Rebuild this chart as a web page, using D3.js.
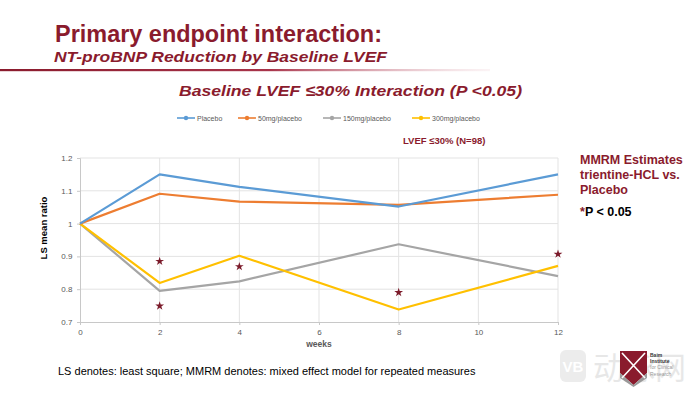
<!DOCTYPE html>
<html><head><meta charset="utf-8">
<script src="https://cdn.jsdelivr.net/npm/d3@7"></script>
<style>html,body{margin:0;padding:0;background:#fff;}svg{display:block;font-family:"Liberation Sans",Arial,sans-serif;}</style>
</head><body><svg id="c" width="700" height="394"></svg>
<script>
const weeks = [0, 2, 4, 8, 12];
const seriesNames = ["Placebo", "50mg/placebo", "150mg/placebo", "300mg/placebo"];
const placebo = [1.0, 1.150, 1.112, 1.052, 1.150];
const mg50 = [1.0, 1.091, 1.067, 1.057, 1.088];
const mg150 = [1.0, 0.795, 0.824, 0.937, 0.840];
const mg300 = [1.0, 0.819, 0.902, 0.738, 0.871];
const starWeeks = [2, 2, 4, 8, 12];
const starValues = [0.885, 0.749, 0.869, 0.790, 0.907];
const xTicks = [0, 2, 4, 6, 8, 10, 12];
const yTicks = [0.7, 0.8, 0.9, 1.0, 1.1, 1.2];
const yTickLabels = ["0.7", "0.8", "0.9", "1", "1.1", "1.2"];
const colors = ["#5B9BD5", "#ED7D31", "#A5A5A5", "#FFC000"];
const darkRed = "#8A1B2D";

const svg = d3.select("#c");
const defs = svg.append("defs");
const grad = defs.append("linearGradient").attr("id", "rule").attr("x1", "0").attr("x2", "1");
grad.append("stop").attr("offset", "0").attr("stop-color", "#8A1B2D");
grad.append("stop").attr("offset", "0.55").attr("stop-color", "#A8344A");
grad.append("stop").attr("offset", "1").attr("stop-color", "#F3D9DE").attr("stop-opacity", 0.3);

// Titles
svg.append("text").attr("x", 55).attr("y", 42).attr("fill", darkRed)
  .attr("font-size", 23).attr("font-weight", "bold")
  .attr("textLength", 327).attr("lengthAdjust", "spacingAndGlyphs")
  .text("Primary endpoint interaction:");
svg.append("text").attr("x", 54).attr("y", 62).attr("fill", darkRed)
  .attr("font-size", 15.5).attr("font-weight", "bold").attr("font-style", "italic")
  .attr("textLength", 333).attr("lengthAdjust", "spacingAndGlyphs")
  .text("NT-proBNP Reduction by Baseline LVEF");
svg.append("rect").attr("x", 0).attr("y", 69).attr("width", 490).attr("height", 2.2).attr("fill", "url(#rule)");

svg.append("text").attr("x", 179).attr("y", 96).attr("fill", darkRed)
  .attr("font-size", 15.5).attr("font-weight", "bold").attr("font-style", "italic")
  .attr("textLength", 343).attr("lengthAdjust", "spacingAndGlyphs")
  .text("Baseline LVEF ≤30% Interaction (P <0.05)");

// Plot
const x = d3.scaleLinear().domain([0, 12]).range([80, 558]);
const y = d3.scaleLinear().domain([0.7, 1.2]).range([322, 158]);

const g = svg.append("g");
g.selectAll("line.hg").data(yTicks.slice(1)).join("line")
  .attr("x1", x(0)).attr("x2", x(12)).attr("y1", d => y(d)).attr("y2", d => y(d))
  .attr("stroke", "#E3E3E3").attr("stroke-width", 1);
g.selectAll("line.vg").data(xTicks.slice(1)).join("line")
  .attr("x1", d => x(d)).attr("x2", d => x(d)).attr("y1", y(0.7)).attr("y2", y(1.2))
  .attr("stroke", "#E3E3E3").attr("stroke-width", 1);

const xAxis = svg.append("g").attr("transform", `translate(0,${y(0.7)})`)
  .call(d3.axisBottom(x).tickValues(xTicks).tickSize(3).tickFormat(d3.format("d")));
const yAxis = svg.append("g").attr("transform", `translate(${x(0)},0)`)
  .call(d3.axisLeft(y).tickValues(yTicks).tickSize(3).tickFormat((d, i) => yTickLabels[i]));
[xAxis, yAxis].forEach(a => {
  a.select(".domain").attr("stroke", "#C8C8C8");
  a.selectAll(".tick line").attr("stroke", "#C8C8C8");
  a.selectAll(".tick text").attr("fill", "#595959").attr("font-size", 8)
    .attr("font-family", "Liberation Sans, Arial, sans-serif");
});
xAxis.selectAll(".tick text").attr("dy", "0.9em");
yAxis.selectAll(".tick text").attr("dx", "-0.2em");

svg.append("text").attr("x", 319).attr("y", 347).attr("text-anchor", "middle")
  .attr("fill", "#595959").attr("font-size", 8.5).attr("font-weight", "bold").text("weeks");
svg.append("text").attr("transform", "translate(47,228) rotate(-90)").attr("text-anchor", "middle")
  .attr("fill", "#000").attr("font-size", 9.5).attr("font-weight", "bold").text("LS mean ratio");

const allSeries = [placebo, mg50, mg150, mg300];
const line = d3.line().x((d, i) => x(weeks[i])).y(d => y(d));
[2, 3, 1, 0].forEach(k => {
  svg.append("path").datum(allSeries[k]).attr("d", line).attr("fill", "none")
    .attr("stroke", colors[k]).attr("stroke-width", 2.2).attr("stroke-linejoin", "round");
});

svg.selectAll("path.star").data(starWeeks).join("path")
  .attr("transform", (d, i) => `translate(${x(d)},${y(starValues[i])})`)
  .attr("d", d3.symbol(d3.symbolStar).size(24)).attr("fill", "#7B1A2A");

// Legend
const legX = [177, 238, 323, 412];
const lg = svg.append("g");
seriesNames.forEach((n, i) => {
  const gg = lg.append("g").attr("transform", `translate(${legX[i]},118)`);
  gg.append("line").attr("x1", 0).attr("x2", 18).attr("stroke", colors[i]).attr("stroke-width", 1.6);
  gg.append("circle").attr("cx", 9).attr("r", 2.2).attr("fill", colors[i]);
  gg.append("text").attr("x", 20).attr("y", 2.5).attr("font-size", 7).attr("fill", "#595959").text(n);
});

svg.append("text").attr("x", 403).attr("y", 143.5).attr("fill", darkRed)
  .attr("font-size", 9.5).attr("font-weight", "bold").text("LVEF ≤30% (N=98)");

// Right annotation
const ann = ["MMRM Estimates", "trientine-HCL vs.", "Placebo"];
ann.forEach((t, i) => {
  svg.append("text").attr("x", 580).attr("y", 164 + i * 15.2).attr("fill", darkRed)
    .attr("font-size", 12.5).attr("font-weight", "bold").text(t);
});
const pt = svg.append("text").attr("x", 580).attr("y", 216).attr("font-size", 12.5).attr("font-weight", "bold");
pt.append("tspan").attr("fill", darkRed).text("*");
pt.append("tspan").attr("fill", "#000").text("P < 0.05");

// Footer
svg.append("text").attr("x", 58).attr("y", 374.5).attr("font-size", 11).attr("fill", "#000")
  .text("LS denotes: least square; MMRM denotes: mixed effect model for repeated measures");

// Watermark (drawn as faint shapes behind the logo)
const wm = svg.append("g").attr("opacity", 0.35);
wm.append("rect").attr("x", 560).attr("y", 350).attr("width", 26).attr("height", 32).attr("rx", 6).attr("fill", "#C9C9C9");
wm.append("text").attr("x", 573).attr("y", 372).attr("text-anchor", "middle").attr("font-size", 15)
  .attr("font-weight", "bold").attr("fill", "#fff").text("VB");
wm.append("text").attr("x", 593).attr("y", 379).attr("font-size", 31).attr("fill", "#BDBDBD")
  .attr("font-family", "Noto Sans CJK SC").text("动脉网");

// Logo
const logo = svg.append("g");
logo.append("path").attr("d", "M620,351 L647,351 L647,373 L633.5,385 L620,373 Z").attr("fill", "#8A1B2D");
logo.append("path").attr("d", "M620,373 L633.5,385 L647,373 L647,378 L633.5,387 L620,378 Z").attr("fill", "#9A9A9A");
logo.append("path").attr("d", "M622,353 L645,378 M645,353 L622,378").attr("stroke", "#fff").attr("stroke-width", 1.6);
const lt = ["Baim", "Institute", "for Clinical", "Research"];
lt.forEach((t, i) => {
  logo.append("text").attr("x", 650).attr("y", 357 + i * 6.2).attr("font-size", 5)
    .attr("fill", i < 2 ? "#333" : "#999").attr("font-weight", i < 2 ? "bold" : "normal").text(t);
});
</script></body></html>
